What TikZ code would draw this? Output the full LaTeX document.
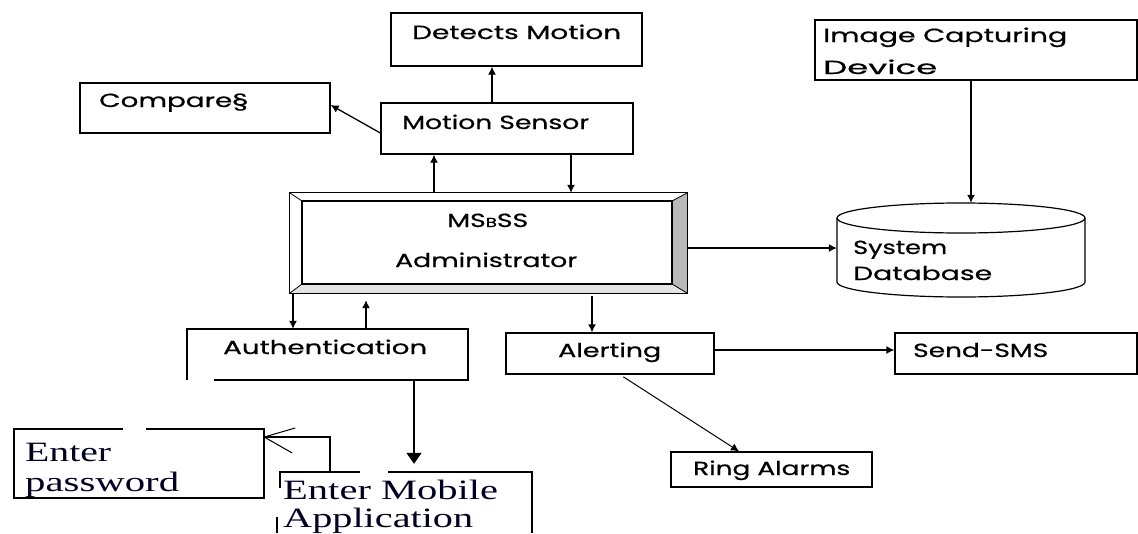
\documentclass[tikz,border=0pt]{standalone}
\usepackage{fontspec}
\usepackage{graphicx}
\usetikzlibrary{arrows.meta}
\newfontfamily\gothic[FakeBold=0.6]{Poppins}
\newfontfamily\tnr{Liberation Serif}
\newcommand{\fitw}[2]{\resizebox{#1pt}{\height}{#2}}
\begin{document}
\begin{tikzpicture}[x=1pt,y=-1pt,
  box/.style={draw, line width=1.3pt, rectangle, inner sep=0},
  ghost/.style={rectangle, inner sep=0},
  lbl/.style={inner sep=0, anchor=base west, font=\gothic\fontsize{19}{19}\selectfont},
  serif/.style={inner sep=0, anchor=base west, text=black!85!blue, font=\tnr\fontsize{28}{28}\selectfont},
  edge/.style={line width=1.3pt},
  arr/.style={line width=1.3pt, -{Latex[length=8pt,width=8pt]}},
  bigarr/.style={line width=1.5pt, -{Triangle[length=11pt,width=15pt]}},
]
\useasboundingbox (0,0) rectangle (1138,533);
\fill[white] (0,0) rectangle (1138,533);

% helper coordinates
\foreach \v in {105,133,248,350,437}{\coordinate (y\v) at (0,\v);}
\foreach \u in {293,330,366,414,434,492,571,592,620,739,971}{\coordinate (x\u) at (\u,0);}

% boxes
\node[box, minimum width=251pt, minimum height=53pt] (dm) at (516.5,39.5) {};
\node[box, minimum width=250pt, minimum height=50pt] (cmp) at (205,108) {};
\node[box, minimum width=252pt, minimum height=51pt] (ms) at (507,128.5) {};
\node[box, minimum width=322pt, minimum height=60pt] (img) at (976,50) {};
\node[box, minimum width=208pt, minimum height=41pt] (alert) at (610,353.5) {};
\node[box, minimum width=242pt, minimum height=41pt] (sms) at (1016,353.5) {};
\node[box, minimum width=201pt, minimum height=35pt] (ring) at (771.5,469.5) {};

% administrator (bevelled)
\node[ghost, minimum width=397pt, minimum height=100pt] (adm) at (488.5,243) {};
\fill[gray!55] (672,201) -- (687,193) -- (687,293) -- (672,284) -- cycle;
\fill[gray!22] (302,284) -- (672,284) -- (687,293) -- (290,293) -- cycle;
\draw[line width=1.2pt] (adm.north west) rectangle (adm.south east);
\draw[line width=1.2pt] (302,201) rectangle (672,284);
\draw[line width=0.8pt] (290,193) -- (302,201) (687,193) -- (672,201)
  (290,293) -- (302,284) (687,293) -- (672,284);

% database cylinder
\node[ghost, minimum width=248pt, minimum height=94pt] (db) at (961,250) {};
\draw[line width=1.2pt] (837,218) -- (837,282)
  arc[start angle=180, end angle=360, x radius=124pt, y radius=15pt] -- (1085,218);
\draw[line width=1.2pt] (961,218) ellipse [x radius=124pt, y radius=15pt];

% authentication (gap in bottom edge)
\node[ghost, minimum width=281pt, minimum height=51pt] (auth) at (327.5,354.5) {};
\draw[edge] (214,380) -- (468,380) -- (468,329) -- (187,329) -- (187,380);

% enter password (gap in top edge)
\node[ghost, minimum width=250pt, minimum height=69pt] (pwd) at (139,463.5) {};
\draw[edge] (123,429) -- (14,429) -- (14,498) -- (264,498) -- (264,429) -- (146,429);

% enter mobile application (broken edges)
\node[ghost, minimum width=252pt, minimum height=61pt] (mob) at (406,502.5) {};
\draw[edge] (280,488) -- (280,472) -- (360,472);
\draw[edge] (388,472) -- (532,472) -- (532,533);
\draw[edge] (277,517) -- (277,533);

% labels
\node[lbl] (tdm) at (412,39) {\fitw{209}{Detects Motion}};
\node[lbl] (tcmp) at (99,107) {\fitw{149}{Compare§}};
\node[lbl] (tms) at (402,129) {\fitw{187}{Motion Sensor}};
\node[lbl] (tadm1) at (447,227) {\fitw{81}{MS{\fontsize{13}{13}\selectfont B}SS}};
\node[lbl] (tadm2) at (395,267) {\fitw{182}{Administrator}};
\node[lbl] (tauth) at (223,354) {\fitw{204}{Authentication}};
\node[lbl] (talert) at (558,357) {\fitw{103}{Alerting}};
\node[lbl] (tsms) at (913,357) {\fitw{135}{Send-SMS}};
\node[lbl] (tring) at (693,475) {\fitw{157}{Ring Alarms}};
\node[lbl] (timg1) at (823,42) {\fitw{244}{Image Capturing}};
\node[lbl] (timg2) at (823,74) {\fitw{114}{Device}};
\node[lbl] (tdb1) at (853,254) {\fitw{94}{System}};
\node[lbl] (tdb2) at (853,280) {\fitw{139}{Database}};
\node[serif] (tpwd1) at (25,461) {\fitw{86}{Enter}};
\node[serif] (tpwd2) at (25,491) {\fitw{154}{password}};
\node[serif] (tmob1) at (283,499) {\fitw{215}{Enter Mobile}};
\node[serif] (tmob2) at (283,527) {\fitw{190}{Application}};

% connectors
\draw[arr] (ms.north -| x492) -- (dm.south -| x492);
\draw[arr] (ms.west |- y133) -- (cmp.east |- y105);
\draw[arr] (adm.north -| x434) -- (ms.south -| x434);
\draw[arr] (ms.south -| x571) -- (adm.north -| x571);
\draw[arr] (adm.south -| x293) -- (auth.north -| x293);
\draw[arr, shorten >=7pt] (auth.north -| x366) -- (adm.south -| x366);
\draw[arr, shorten <=3pt] (adm.south -| x592) -- (alert.north -| x592);
\draw[arr] (adm.east |- y248) -- (db.west |- y248);
\draw[arr] (img.south -| x971) -- (db.north -| x971);
\draw[arr] (alert.east |- y350) -- (sms.west |- y350);
\draw[line width=1pt, -{Latex[length=8pt,width=8pt]}, shorten <=4pt] (alert.south -| x620) -- (ring.north -| x739);
\draw[bigarr, shorten >=8pt] (auth.south -| x414) -- (mob.north -| x414);
\draw[edge] (mob.north -| x330) -- (330,437) -- (pwd.east |- y437);
\draw[line width=1pt] (pwd.east |- y437) -- ++(31,-9) (pwd.east |- y437) -- ++(28,16);
\end{tikzpicture}
\end{document}
